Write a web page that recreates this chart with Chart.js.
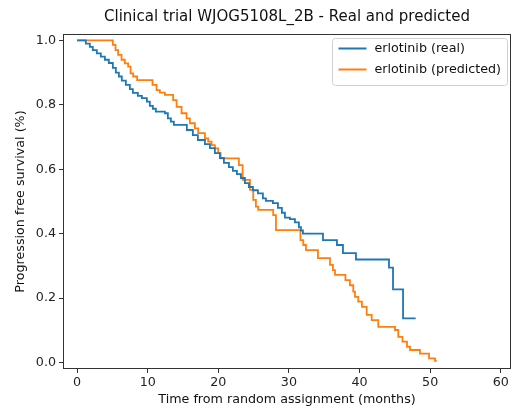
<!DOCTYPE html>
<html>
<head>
<meta charset="utf-8">
<script src="https://cdn.jsdelivr.net/npm/chart.js@4.4.0/dist/chart.umd.min.js"></script>
<style>
  html, body { margin: 0; padding: 0; background: #fff; }
  #wrap { width: 517px; height: 411px; }
</style>
</head>
<body>
<div id="wrap"><canvas id="myChart" width="517" height="411"></canvas></div>
<script>
// Kaplan-Meier steps: time in months, survival fraction
const realTime = [0, 1.23, 1.80, 2.22, 2.79, 3.36, 3.93, 4.49, 5.06, 5.48, 5.91, 6.33, 6.90, 7.47, 7.89, 8.60, 9.17, 9.88, 10.30, 10.73, 11.15, 12.43, 12.85, 13.28, 13.70, 15.54, 16.39, 17.10, 18.10, 18.81, 19.51, 20.22, 20.79, 21.50, 22.06, 22.63, 23.20, 23.76, 24.33, 24.90, 25.60, 26.31, 26.74, 27.73, 28.44, 29.00, 29.43, 30.14, 30.85, 31.41, 31.70, 31.98, 34.82, 36.80, 37.65, 39.49, 44.17, 44.74, 46.16, 47.95];
const realSurv = [1.0, 0.99, 0.98, 0.97, 0.96, 0.95, 0.94, 0.93, 0.915, 0.90, 0.888, 0.875, 0.862, 0.849, 0.837, 0.828, 0.821, 0.81, 0.797, 0.788, 0.779, 0.774, 0.758, 0.748, 0.738, 0.722, 0.706, 0.691, 0.678, 0.666, 0.65, 0.635, 0.62, 0.607, 0.595, 0.585, 0.573, 0.557, 0.545, 0.535, 0.525, 0.51, 0.502, 0.495, 0.48, 0.465, 0.45, 0.445, 0.435, 0.42, 0.41, 0.40, 0.38, 0.365, 0.34, 0.32, 0.295, 0.227, 0.137, 0.137];

const predTime = [0, 5.06, 5.44, 5.81, 6.29, 6.76, 7.23, 7.57, 7.94, 8.50, 10.68, 11.25, 11.72, 12.43, 13.60, 14.09, 14.79, 15.50, 15.97, 16.68, 17.15, 18.10, 18.56, 19.04, 19.51, 19.98, 20.32, 22.91, 23.44, 24.48, 24.94, 25.32, 25.65, 27.77, 28.16, 31.63, 32.03, 32.41, 34.11, 35.81, 36.23, 36.52, 38.00, 38.64, 39.11, 39.35, 39.82, 40.34, 41.01, 41.72, 42.65, 45.02, 45.49, 46.08, 46.72, 47.15, 48.56, 49.84, 50.69, 50.93];
const predSurv = [1.0, 0.986, 0.97, 0.955, 0.94, 0.929, 0.919, 0.898, 0.888, 0.877, 0.862, 0.846, 0.838, 0.831, 0.815, 0.794, 0.774, 0.758, 0.743, 0.727, 0.712, 0.696, 0.686, 0.675, 0.665, 0.65, 0.634, 0.613, 0.567, 0.536, 0.505, 0.484, 0.474, 0.458, 0.411, 0.38, 0.365, 0.349, 0.324, 0.303, 0.287, 0.272, 0.256, 0.24, 0.22, 0.204, 0.189, 0.173, 0.148, 0.132, 0.111, 0.101, 0.08, 0.065, 0.049, 0.039, 0.028, 0.013, 0.005, 0.005];

const xTicks = [0, 10, 20, 30, 40, 50, 60];
const yTicks = [0.0, 0.2, 0.4, 0.6, 0.8, 1.0];

const FONT = "'DejaVu Sans', sans-serif";
const TXT = 12.7;

function toPoints(xs, ys) {
    return xs.map(function(x, i) { return { x: x, y: ys[i] }; });
}

// matplotlib style frame + legend inside the axes
const framePlugin = {
    id: 'frame',
    afterDraw: function(chart) {
        const ctx = chart.ctx;
        const a = chart.chartArea;
        ctx.save();
        ctx.strokeStyle = '#333';
        ctx.lineWidth = 1;
        ctx.strokeRect(Math.round(a.left) + 0.5, Math.round(a.top) + 0.5,
            Math.round(a.right - a.left) - 1, Math.round(a.bottom - a.top) - 1);

        // legend
        const w = 175, h = 47;
        const bx = Math.round(a.right) - 4 - w + 0.5;
        const by = Math.round(a.top) + 4 + 0.5;
        ctx.beginPath();
        ctx.roundRect(bx, by, w, h, 3);
        ctx.fillStyle = 'rgba(255,255,255,0.8)';
        ctx.fill();
        ctx.strokeStyle = '#d0d0d0';
        ctx.stroke();
        ctx.font = TXT + 'px ' + FONT;
        ctx.textBaseline = 'middle';
        chart.data.datasets.forEach(function(ds, i) {
            const y = by + 10 + i * 21;
            ctx.strokeStyle = ds.borderColor;
            ctx.lineWidth = 2;
            ctx.beginPath();
            ctx.moveTo(bx + 6, y);
            ctx.lineTo(bx + 34, y);
            ctx.stroke();
            ctx.fillStyle = '#111';
            ctx.fillText(ds.label, bx + 42, y);
        });
        ctx.restore();
    }
};

const ctx = document.getElementById('myChart').getContext('2d');
const chart = new Chart(ctx, {
    type: 'line',
    data: {
        datasets: [
            {
                label: 'erlotinib (real)',
                data: toPoints(realTime, realSurv),
                borderColor: '#1f77b4',
                borderWidth: 1.8,
                stepped: true,
                pointRadius: 0,
                fill: false
            },
            {
                label: 'erlotinib (predicted)',
                data: toPoints(predTime, predSurv),
                borderColor: '#ff7f0e',
                borderWidth: 1.8,
                stepped: true,
                pointRadius: 0,
                fill: false
            }
        ]
    },
    options: {
        responsive: false,
        animation: false,
        layout: { padding: { right: 6 } },
        plugins: {
            legend: { display: false },
            tooltip: { enabled: false },
            title: {
                display: true,
                fullSize: false,
                text: 'Clinical trial WJOG5108L_2B - Real and predicted',
                color: '#111',
                font: { family: FONT, size: 15, weight: 'normal' },
                padding: { top: 8.5, bottom: 7.5 }
            }
        },
        scales: {
            x: {
                type: 'linear',
                min: -2,
                max: 61.45,
                afterBuildTicks: function(scale) {
                    scale.ticks = xTicks.map(function(v) { return { value: v }; });
                },
                afterFit: function(scale) { scale.height = 42; },
                grid: { drawOnChartArea: false, drawTicks: true, tickLength: 4, color: '#333' },
                border: { display: false },
                ticks: {
                    color: '#222',
                    font: { family: FONT, size: TXT },
                    padding: 2,
                    maxRotation: 0,
                    callback: function(v) { return v; }
                },
                title: {
                    display: true,
                    text: 'Time from random assignment (months)',
                    color: '#111',
                    font: { family: FONT, size: TXT },
                    padding: { top: 0, bottom: 4 }
                }
            },
            y: {
                min: -0.02,
                max: 1.02,
                afterBuildTicks: function(scale) {
                    scale.ticks = yTicks.map(function(v) { return { value: v }; });
                },
                afterFit: function(scale) { scale.width = 63; },
                grid: { drawOnChartArea: false, drawTicks: true, tickLength: 4, color: '#333' },
                border: { display: false },
                ticks: {
                    color: '#222',
                    font: { family: FONT, size: TXT },
                    padding: 3,
                    callback: function(v) { return v.toFixed(1); }
                },
                title: {
                    display: true,
                    text: 'Progression free survival (%)',
                    color: '#111',
                    font: { family: FONT, size: TXT },
                    padding: { top: 13, bottom: 0 }
                }
            }
        }
    },
    plugins: [framePlugin]
});
</script>
</body>
</html>
